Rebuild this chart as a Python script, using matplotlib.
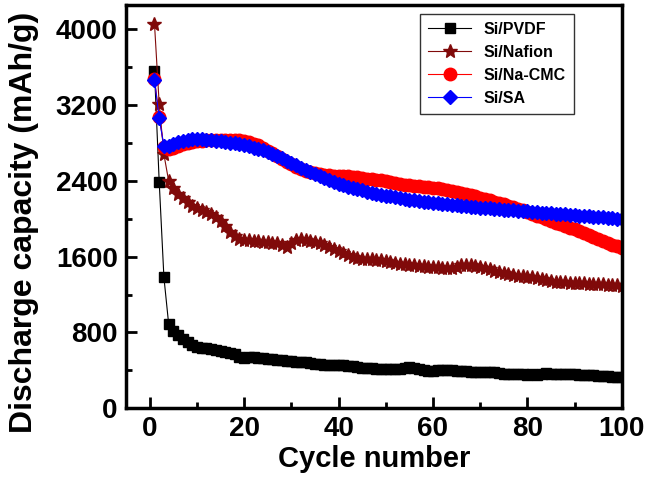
import matplotlib
matplotlib.use('Agg')
import matplotlib.pyplot as plt
from matplotlib.ticker import MultipleLocator
import numpy as np

plt.rcParams['font.family'] = ['Liberation Sans', 'DejaVu Sans']
plt.rcParams['font.weight'] = 'bold'
plt.rcParams['axes.labelweight'] = 'bold'

cycles = list(range(1, 101))

pvdf = [3560, 2390, 1380, 890, 820, 770, 730, 700, 670, 650,
        640, 630, 620, 610, 600, 590, 585, 575, 545, 530,
        540, 535, 530, 525, 520, 515, 510, 505, 500, 495,
        490, 488, 485, 480, 470, 462, 460, 458, 455, 452,
        455, 450, 440, 430, 425, 425, 420, 415, 412, 410,
        412, 410, 415, 425, 430, 420, 415, 405, 395, 395,
        400, 400, 400, 398, 395, 392, 390, 385, 382, 385,
        382, 385, 382, 375, 365, 360, 362, 360, 358, 355,
        360, 350, 365, 368, 365, 362, 360, 362, 365, 362,
        355, 350, 348, 345, 340, 338, 335, 332, 330, 328]

nafion = [4060, 3210, 2680, 2400, 2330, 2260, 2220, 2180, 2140, 2110,
          2090, 2070, 2050, 2020, 1980, 1920, 1860, 1820, 1790, 1780,
          1775, 1770, 1765, 1760, 1750, 1745, 1740, 1720, 1700, 1740,
          1775, 1785, 1780, 1770, 1755, 1740, 1720, 1700, 1680, 1660,
          1640, 1620, 1600, 1590, 1580, 1575, 1570, 1565, 1560, 1555,
          1545, 1535, 1525, 1520, 1515, 1510, 1505, 1500, 1495, 1490,
          1488, 1485, 1480, 1482, 1495, 1510, 1515, 1512, 1505, 1495,
          1480, 1465, 1450, 1440, 1430, 1420, 1410, 1400, 1395, 1390,
          1380, 1370, 1360, 1350, 1340, 1335, 1330, 1328, 1325, 1322,
          1320, 1318, 1315, 1312, 1310, 1308, 1305, 1302, 1300, 1295]

na_cmc = [3480, 3080, 2760, 2740, 2750, 2770, 2790, 2805, 2815, 2820,
          2825, 2828, 2830, 2832, 2835, 2835, 2835, 2832, 2828, 2820,
          2810, 2795, 2775, 2750, 2720, 2690, 2660, 2630, 2600, 2575,
          2550, 2530, 2510, 2495, 2480, 2470, 2462, 2458, 2455, 2452,
          2450, 2447, 2443, 2438, 2432, 2425, 2418, 2410, 2405, 2398,
          2390, 2380, 2370, 2362, 2355, 2350, 2345, 2340, 2335, 2330,
          2322, 2315, 2305, 2295, 2285, 2272, 2260, 2248, 2236, 2224,
          2210, 2196, 2182, 2168, 2152, 2136, 2120, 2104, 2088, 2070,
          2052, 2034, 2015, 1996, 1978, 1960, 1942, 1924, 1906, 1888,
          1868, 1848, 1828, 1808, 1788, 1768, 1748, 1728, 1710, 1695]

sa = [3470, 3060, 2770, 2770, 2790, 2810, 2825, 2835, 2840, 2840,
      2838, 2835, 2830, 2825, 2820, 2812, 2805, 2797, 2788, 2778,
      2766, 2752, 2738, 2722, 2705, 2685, 2662, 2640, 2615, 2590,
      2565, 2540, 2515, 2492, 2470, 2448, 2428, 2408, 2390, 2372,
      2355, 2340, 2326, 2313, 2300, 2288, 2276, 2265, 2255, 2245,
      2236, 2227, 2218, 2210, 2202, 2195, 2188, 2181, 2175, 2169,
      2163, 2157, 2151, 2146, 2141, 2136, 2131, 2126, 2122, 2118,
      2114, 2110, 2106, 2102, 2098, 2094, 2090, 2086, 2082, 2078,
      2074, 2070, 2066, 2062, 2058, 2054, 2050, 2046, 2042, 2038,
      2034, 2030, 2026, 2022, 2018, 2014, 2010, 2006, 2002, 1998]

fig = plt.figure(figsize=(6.47, 4.83), dpi=100)
ax = fig.add_axes([0.195, 0.155, 0.766, 0.835])

ax.plot(cycles, pvdf, color='black', marker='s', ms=6.5, lw=0.8, label='Si/PVDF')
ax.plot(cycles, nafion, color='#800a0a', marker='*', ms=10, lw=0.8, label='Si/Nafion')
ax.plot(cycles, na_cmc, color='red', marker='o', ms=9, lw=0.8, label='Si/Na-CMC')
ax.plot(cycles, sa, color='blue', marker='D', ms=7.5, lw=0.8, label='Si/SA')

ax.set_xlim(-5, 100)
ax.set_ylim(0, 4260)
ax.xaxis.set_major_locator(MultipleLocator(20))
ax.xaxis.set_minor_locator(MultipleLocator(10))
ax.yaxis.set_major_locator(MultipleLocator(800))
ax.yaxis.set_minor_locator(MultipleLocator(400))
ax.tick_params(which='major', direction='in', length=8, width=2, labelsize=20, pad=6)
ax.tick_params(which='minor', direction='in', length=4, width=2)
for s in ax.spines.values():
    s.set_linewidth(2.5)

ax.set_xlabel('Cycle number', fontsize=21, labelpad=2)
ax.set_ylabel('Discharge capacity (mAh/g)', fontsize=23)
ax.yaxis.set_label_coords(-0.175, 0.46)

leg = ax.legend(loc='upper left', bbox_to_anchor=(0.577, 0.997), fontsize=11.5,
                fancybox=False, edgecolor='#333333', framealpha=1,
                handlelength=2.7, borderpad=0.5, labelspacing=0.5)
leg.get_frame().set_linewidth(1)

fig.savefig('out.png', dpi=100)
